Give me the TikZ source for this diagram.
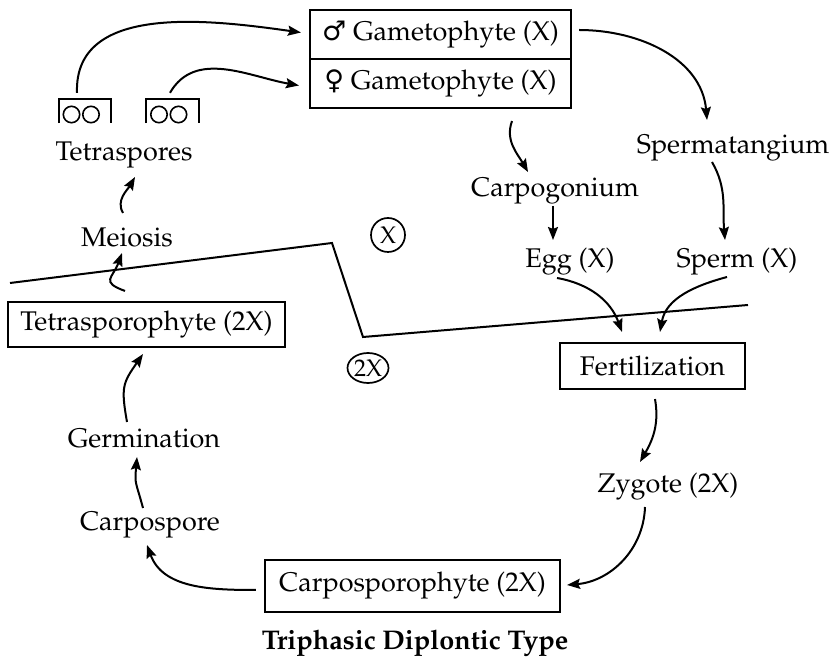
\documentclass[tikz,border=0pt]{standalone}
\usepackage{fontspec}
\usepackage[T1]{fontenc}
\usepackage{mathpazo}
\newfontfamily\gsym{DejaVu Sans}
\usetikzlibrary{arrows.meta,shapes.geometric}

\tikzset{
  lbl/.style={font=\fontsize{27}{30}\selectfont, inner sep=0pt},
  stagebox/.style={lbl, draw, line width=2.1pt},
  ploidy/.style={lbl, draw, line width=1.7pt, font=\fontsize{24}{26}\selectfont},
  cyc/.style={line width=2pt, -{Stealth[length=13pt,width=10pt,inset=2pt]}},
}

% tetrad symbol: box open below with two spores
\newcommand\tetrad[2]{%
  \node[minimum width=52pt, minimum height=24pt, inner sep=0pt] (#1) at (#2) {};
  \draw[line width=1.8pt] (#1.south west) |- (#1.north east) -- (#1.south east);
  \draw[line width=1.6pt] ([shift={(-13.5,-3.5)}]#1.center) circle (8.2)
                          ([shift={(6,-3.5)}]#1.center) circle (8.2);
}

\begin{document}
\begin{tikzpicture}[x=1pt,y=1pt]
  \useasboundingbox (0,0) rectangle (830,661);
  % haploid phase
  \node[stagebox, minimum width=261pt, minimum height=49pt] (male) at (440.5,626.5) {{\gsym ♂} Gametophyte (X)};
  \node[stagebox, minimum width=261pt, minimum height=49pt] (female) at (440.5,577.5) {{\gsym ♀} Gametophyte (X)};
  \tetrad{tetA}{85,550}
  \tetrad{tetB}{172.5,550}
  \node[lbl] (tetras) at (124,506) {Tetraspores};
  \node[lbl] (meiosis) at (127,424) {Meiosis};
  \node[lbl] (carpog) at (555,470) {Carpogonium};
  \node[lbl] (sperma) at (733,513) {Spermatangium};
  \node[lbl] (egg) at (570,399) {Egg (X)};
  \node[lbl] (sperm) at (737,399) {Sperm (X)};
  \node[ploidy, circle, minimum size=34pt] (hapl) at (388,426) {X};
  % diploid phase
  \node[stagebox, minimum width=277pt, minimum height=45pt] (tetsp) at (146.5,336.5) {Tetrasporophyte (2X)};
  \node[ploidy, ellipse, minimum width=41pt, minimum height=30pt] (dipl) at (368,293) {2X};
  \node[stagebox, minimum width=185pt, minimum height=46pt] (fert) at (652.5,295) {Fertilization};
  \node[lbl] (zyg) at (668,174) {Zygote (2X)};
  \node[lbl] (germ) at (144,223) {Germination};
  \node[lbl] (carpsp) at (150,136) {Carpospore};
  \node[stagebox, minimum width=295pt, minimum height=52pt] (carpph) at (412.5,75) {Carposporophyte (2X)};
  \node[lbl, font=\fontsize{27}{30}\selectfont\bfseries] (title) at (415,18) {Triphasic Diplontic Type};

  % X / 2X boundary
  \draw[line width=2pt] (10,378) -- (332,418) -- (363,324) -- (748,356);

  % cycle
  \draw[cyc] ([shift={(-8,6)}]tetA.north) to[out=92,in=172] ([shift={(-8,2)}]male.west);
  \draw[cyc] ([shift={(-2.5,6)}]tetB.north) to[out=60,in=170] ([shift={(-10,-2)}]female.west);
  \draw[cyc] ([shift={(7,4.5)}]male.east) to[out=0,in=95] ([shift={(-26,28)}]sperma.center);
  \draw[cyc] ([shift={(71.5,-12)}]female.south) to[out=250,in=120] ([shift={(-27,19)}]carpog.center);
  \draw[cyc] ([shift={(-2,-15)}]carpog.center) -- ([shift={(-17,22)}]egg.center);
  \draw[cyc] ([shift={(-21,-14)}]sperma.center) to[out=-60,in=95] ([shift={(-12,22)}]sperm.center);
  \draw[cyc] ([shift={(-13,-16)}]egg.center) to[out=-10,in=110] ([shift={(-30.5,10)}]fert.north);
  \draw[cyc] ([shift={(-10,-15)}]sperm.center) to[out=195,in=80] ([shift={(7.5,10)}]fert.north);
  \draw[cyc] ([shift={(2.5,-9)}]fert.south) to[out=-80,in=60] ([shift={(-28,25)}]zyg.center);
  \draw[cyc] ([shift={(-23,-20)}]zyg.center) to[out=268,in=5] ([shift={(6,1)}]carpph.east);
  \draw[cyc] ([shift={(-8,-4)}]carpph.west) to[out=180,in=290] ([shift={(-3,-20)}]carpsp.center);
  \draw[cyc] ([shift={(-7,17)}]carpsp.center) to[out=105,in=265,looseness=1.4] ([shift={(-7,-19)}]germ.center);
  \draw[cyc] ([shift={(-17,16)}]germ.center) to[out=100,in=235,looseness=1.3] ([shift={(-3.5,-6)}]tetsp.south);
  \draw[cyc] ([shift={(-21.5,10)}]tetsp.north) to[out=160,in=250,looseness=1.8] ([shift={(-5,-16)}]meiosis.center);
  \draw[cyc] ([shift={(-4,24)}]meiosis.center) to[out=120,in=240] ([shift={(11,-22)}]tetras.center);
\end{tikzpicture}
\end{document}
